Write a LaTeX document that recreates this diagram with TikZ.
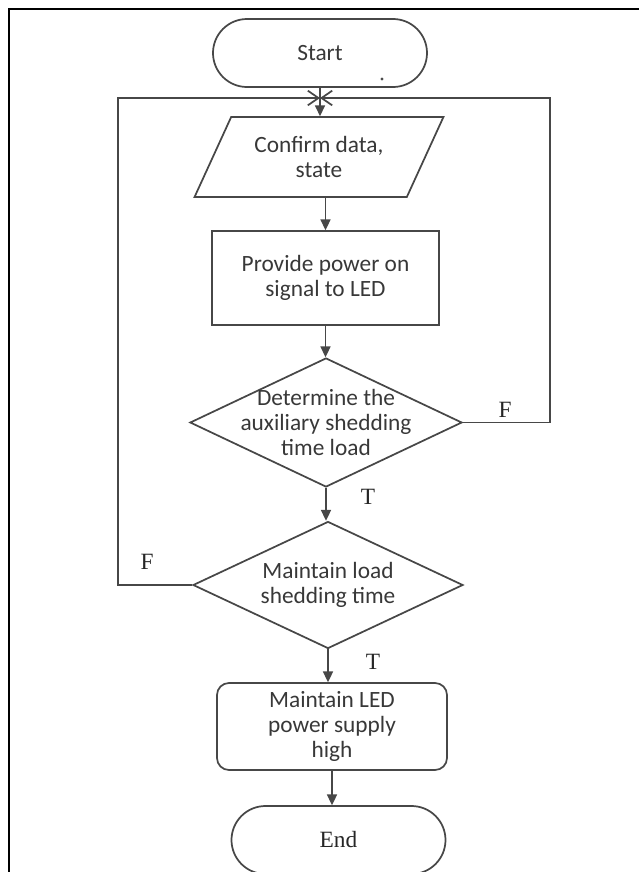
\documentclass[tikz,border=0pt]{standalone}
\usepackage{fontspec}
\setmainfont{Carlito}
\newfontfamily\tnr{Liberation Serif}
\usetikzlibrary{shapes.geometric,arrows.meta}

\begin{document}
\begin{tikzpicture}[x=0.75pt, y=-0.75pt,
  every node/.style={text=black!78, font=\fontsize{17.5}{18.4}\selectfont, align=center},
  line/.style={draw=black!72, line width=1.3pt},
  arr/.style={line, -{Triangle[length=8pt,width=7.5pt]}},
  meet/.style={line, -{Straight Barb[length=8pt,width=11pt]}},
  term/.style={line, rectangle, rounded corners=25.5pt, minimum width=160.5pt, minimum height=51pt},
  io/.style={line, trapezium, trapezium left angle=60, trapezium right angle=120,
    trapezium stretches=true, minimum width=186.75pt, minimum height=60pt},
  proc/.style={line, rectangle, minimum width=170.25pt, minimum height=70.5pt},
  dec/.style={line, diamond, inner sep=0pt},
  soft/.style={line, rectangle, rounded corners=9pt, minimum width=172.5pt, minimum height=65.25pt},
  lbl/.style={font=\tnr\fontsize{17.5}{20}\selectfont, text=black!85}
]
\useasboundingbox (0,0) rectangle (639,872);
% frame
\draw[black, line width=1pt] (9,872) -- (9,9) -- (639,9);

% blocks
\node[term] (start) at (320,53) {Start};
\fill[black!70] (382,79) circle (1.2pt);
\coordinate (merge) at (320,98);
\node[io] (conf) at (319,157) {Confirm data,\\state};
\node[proc] (prov) at (325.5,278) {Provide power on\\signal to LED};
\node[dec, minimum width=204pt, minimum height=96.75pt,
  label=center:{Determine the\\auxiliary shedding\\time load}] (dec1) at (326,422.5) {};
\node[dec, minimum width=202.5pt, minimum height=95.25pt,
  label=center:{Maintain load\\shedding time}] (dec2) at (328,585) {};
\node[soft] (keep) at (332,726.5) {Maintain LED\\power supply\\high};
\node[term, font=\tnr\fontsize{17.5}{20}\selectfont, text=black!85] (end) at (338.5,840) {End};

% loop corners
\coordinate (rt) at (550,98);
\coordinate (lt) at (118,98);

% connectors
\draw[line] (start) -- (merge);
\draw[arr] (merge) -- (merge |- conf.north);
\draw[arr] (prov.north |- conf.south) -- (prov.north);
\draw[arr] (prov.south) -- (prov.south |- dec1.north);
\draw[arr] (dec1.south) -- (dec1.south |- dec2.north);
\draw[arr] (dec2.south) -- (dec2.south |- keep.north);
\draw[arr] (keep.south) -- (keep.south |- end.north);
\draw[meet] (dec1.east) -| (rt) -- (merge);
\draw[meet] (dec2.west) -| (lt) -- (merge);

% branch labels
\node[lbl] (f1) at (505,410) {F};
\node[lbl] (t1) at (368,497) {T};
\node[lbl] (f2) at (147,562) {F};
\node[lbl] (t2) at (373,662) {T};
\end{tikzpicture}
\end{document}
